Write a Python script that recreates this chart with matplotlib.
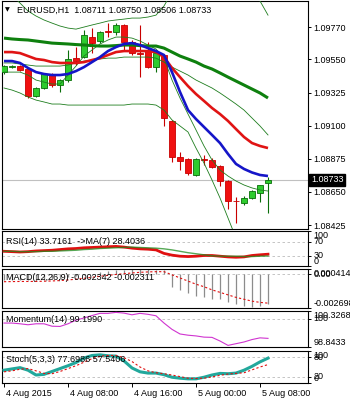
import matplotlib
matplotlib.use("Agg")
import matplotlib.pyplot as plt
from matplotlib.patches import Rectangle
from matplotlib.transforms import ScaledTranslation, blended_transform_factory

plt.rcParams['font.family'] = ['Liberation Sans', 'DejaVu Sans']
FS = 6.5

# ---------------- data ----------------
symbol_title = "EURUSD,H1  1.08711 1.08750 1.08506 1.08733"
last_price = 1.08733
price_ticks = [1.09770, 1.09550, 1.09325, 1.09100, 1.08875, 1.08650, 1.08425]
time_labels = ["4 Aug 2015", "4 Aug 08:00", "4 Aug 16:00", "5 Aug 00:00", "5 Aug 08:00"]
time_label_idx = [0, 8, 16, 24, 32]

opens = [1.09464, 1.09500, 1.09505, 1.09485, 1.09301, 1.09356, 1.09451, 1.09376, 1.09410, 1.09559,
         1.09566, 1.09702, 1.09675, 1.09740, 1.09736, 1.09784, 1.09668, 1.09597, 1.09614, 1.09498,
         1.09580, 1.09132, 1.08887, 1.08873, 1.08765, 1.08875, 1.08866, 1.08826, 1.08724, 1.08590,
         1.08574, 1.08608, 1.08642, 1.08711]
highs = [1.09515, 1.09512, 1.09512, 1.09492, 1.09363, 1.09458, 1.09460, 1.09417, 1.09614, 1.09634,
         1.09750, 1.09763, 1.09745, 1.09797, 1.09797, 1.09790, 1.09680, 1.09784, 1.09668, 1.09610,
         1.09590, 1.09140, 1.08921, 1.08880, 1.08880, 1.08900, 1.08880, 1.08830, 1.08730, 1.08615,
         1.08622, 1.08665, 1.08696, 1.08750]
lows = [1.09450, 1.09495, 1.09472, 1.09290, 1.09295, 1.09350, 1.09363, 1.09330, 1.09400, 1.09512,
        1.09560, 1.09593, 1.09665, 1.09702, 1.09716, 1.09614, 1.09580, 1.09430, 1.09490, 1.09464,
        1.09098, 1.08853, 1.08799, 1.08765, 1.08755, 1.08832, 1.08812, 1.08690, 1.08534, 1.08440,
        1.08560, 1.08600, 1.08580, 1.08506]
closes = [1.09505, 1.09508, 1.09478, 1.09301, 1.09356, 1.09451, 1.09376, 1.09410, 1.09553, 1.09539,
          1.09716, 1.09661, 1.09736, 1.09733, 1.09784, 1.09668, 1.09593, 1.09590, 1.09498, 1.09593,
          1.09152, 1.08887, 1.08859, 1.08778, 1.08873, 1.08868, 1.08819, 1.08724, 1.08588, 1.08585,
          1.08608, 1.08656, 1.08696, 1.08733]

ma_blue = [1.09539, 1.09539, 1.09526, 1.09492, 1.09464, 1.09451, 1.09444, 1.09444, 1.09451, 1.09471,
           1.09498, 1.09532, 1.09566, 1.09607, 1.09634, 1.09655, 1.09661, 1.09648, 1.09627, 1.09607,
           1.09580, 1.09464, 1.09329, 1.09206, 1.09145, 1.09091, 1.09037, 1.08982, 1.08908, 1.08840,
           1.08806, 1.08782, 1.08765, 1.08758]
ma_red = [1.09600, 1.09600, 1.09593, 1.09573, 1.09553, 1.09546, 1.09532, 1.09526, 1.09526, 1.09526,
          1.09532, 1.09546, 1.09559, 1.09580, 1.09600, 1.09607, 1.09607, 1.09607, 1.09607, 1.09600,
          1.09566, 1.09492, 1.09430, 1.09369, 1.09315, 1.09268, 1.09220, 1.09179, 1.09132, 1.09077,
          1.09023, 1.08982, 1.08962, 1.08948]
ma_green = [1.09695, 1.09689, 1.09685, 1.09682, 1.09675, 1.09668, 1.09661, 1.09658, 1.09655, 1.09651,
            1.09648, 1.09644, 1.09641, 1.09641, 1.09644, 1.09648, 1.09648, 1.09644, 1.09641, 1.09641,
            1.09627, 1.09600, 1.09573, 1.09553, 1.09532, 1.09505, 1.09485, 1.09458, 1.09430, 1.09403,
            1.09376, 1.09349, 1.09322, 1.09288]
bb_upper = [1.10028, 1.09987, 1.09933, 1.09879, 1.09845, 1.09818, 1.09797, 1.09777, 1.09763, 1.09756,
            1.09770, 1.09784, 1.09797, 1.09811, 1.09818, 1.09824, 1.09831, 1.09831, 1.09838, 1.09851,
            1.09913, 1.10008, 1.10123, 1.10225, 1.10293, 1.10327, 1.10327, 1.10293, 1.10259, 1.10191,
            1.10123, 1.10035, 1.09947, 1.09851]
bb_mid = [1.09526, 1.09526, 1.09519, 1.09512, 1.09505, 1.09505, 1.09505, 1.09505, 1.09512, 1.09526,
          1.09539, 1.09546, 1.09553, 1.09559, 1.09559, 1.09566, 1.09566, 1.09566, 1.09566, 1.09559,
          1.09532, 1.09498, 1.09471, 1.09444, 1.09410, 1.09383, 1.09356, 1.09322, 1.09285, 1.09247,
          1.09206, 1.09152, 1.09098, 1.09037]
bb_lower = [1.09356, 1.09342, 1.09322, 1.09295, 1.09274, 1.09261, 1.09247, 1.09247, 1.09240, 1.09240,
            1.09240, 1.09240, 1.09240, 1.09240, 1.09240, 1.09240, 1.09247, 1.09247, 1.09247, 1.09240,
            1.09206, 1.09139, 1.09098, 1.09057, 1.08948, 1.08846, 1.08731, 1.08609, 1.08473, 1.08337,
            1.08256, 1.08201, 1.08161, 1.08133]
ma_fast = [1.09464, 1.09464, 1.09464, 1.09444, 1.09410, 1.09396, 1.09383, 1.09383, 1.09444, 1.09505,
           1.09573, 1.09614, 1.09655, 1.09682, 1.09702, 1.09702, 1.09695, 1.09675, 1.09648, 1.09621,
           1.09559, 1.09410, 1.09288, 1.09179, 1.09071, 1.08962, 1.08867, 1.08799, 1.08758, 1.08724,
           1.08697, 1.08677, 1.08663, 1.08656]

rsi = [42, 41, 40, 41, 43, 44, 45, 47, 49, 50, 52, 53, 54, 55, 56, 54, 51, 49, 48, 46,
       36, 31, 28, 27, 28, 30, 30, 28, 26, 25, 26, 30, 32, 33.7161]
rsi_ma = [42, 42, 41, 41, 41, 42, 42, 43, 44, 45, 47, 48, 50, 51, 52, 53, 54, 53, 52, 51,
          49, 46, 42, 38, 35, 32, 29, 28, 28, 28, 27, 27, 28, 28.4036]
rsi_levels = [70, 30]

macd_main = [-0.00050, -0.00048, -0.00046, -0.00050, -0.00052, -0.00045, -0.00040, -0.00036, -0.00025, -0.00018,
             -0.00005, 0.00005, 0.00015, 0.00022, 0.00030, 0.00036, 0.00040, 0.00041, 0.00038, 0.00035,
             0.00030, -0.00105, -0.00130, -0.00150, -0.00172, -0.00180, -0.00195, -0.00200, -0.00222, -0.00238,
             -0.00252, -0.00258, -0.00255, -0.002342]
macd_signal = [-0.00060, -0.00059, -0.00058, -0.00058, -0.00058, -0.00056, -0.00054, -0.00051, -0.00046, -0.00040,
               -0.00033, -0.00025, -0.00017, -0.00009, -0.00002, 0.00004, 0.00010, 0.00015, 0.00018, 0.00020,
               0.00020, -0.00005, -0.00030, -0.00055, -0.00080, -0.00100, -0.00125, -0.00145, -0.00165, -0.00185,
               -0.00200, -0.00215, -0.00225, -0.002311]
macd_max, macd_min = 0.000414, -0.002698

momentum = [99.83, 99.83, 99.80, 99.76, 99.80, 99.80, 99.70, 99.69, 99.80, 99.95,
            100.04, 100.14, 100.23, 100.23, 100.27, 100.24, 100.17, 100.23, 100.19, 100.13,
            99.83, 99.57, 99.38, 99.33, 99.30, 99.25, 99.24, 99.09, 98.91, 98.98,
            99.05, 99.15, 99.22, 99.199]
mom_max, mom_min, mom_level = 100.3268, 98.8433, 100.0

stoch_k = [40, 44, 48, 40, 25, 27, 36, 45, 54, 64, 78, 86, 88, 85, 84, 69, 47, 35, 31, 31,
           26, 18, 15, 13, 13, 18, 25, 30, 29, 31, 40, 52, 66, 77.6986]
stoch_d = [35, 38, 43, 45, 38, 30, 29, 36, 45, 54, 65, 76, 84, 86, 86, 79, 67, 50, 38, 32,
           29, 25, 20, 15, 14, 15, 19, 24, 28, 30, 32, 41, 50, 57.5406]
stoch_levels = [80, 20]

# ---------------- layout ----------------
W, H = 350, 400
fig = plt.figure(figsize=(W / 100, H / 100), dpi=100)
fig.patch.set_facecolor('white')
LEFT, RIGHT = 2, 308


def ax_at(top, bottom):
    a = fig.add_axes([LEFT / W, 1 - bottom / H, (RIGHT - LEFT) / W, (bottom - top) / H])
    a.set_facecolor('white')
    for s in a.spines.values():
        s.set_color('black')
        s.set_linewidth(0.8)
    a.yaxis.tick_right()
    a.tick_params(axis='y', which='both', direction='out', length=2.5, width=0.7,
                  labelsize=FS, pad=1.5, colors='black', left=False, labelleft=False)
    a.tick_params(axis='x', which='both', bottom=False, labelbottom=False)
    a.set_xlim(-0.25, 38.0)
    return a, bottom - top


ax, h_main = ax_at(1, 229)
ax_rsi, h_rsi = ax_at(231, 266)
ax_macd, h_macd = ax_at(269, 308)
ax_mom, h_mom = ax_at(311, 347)
ax_sto, h_sto = ax_at(351, 383)

n = len(closes)
xs = list(range(n))

# ---------------- main chart ----------------
ax.set_ylim(1.08398, 1.09947)
ax.axhline(last_price, color='#C0C0C0', lw=0.8, zorder=1)
for i, (o, hi, lo, c) in enumerate(zip(opens, highs, lows, closes)):
    up = c >= o
    body = '#2ECC2E' if up else '#F01010'
    edge = '#0A6E0A' if up else '#C80000'
    ax.vlines(i, lo, hi, color=edge, lw=0.8, zorder=2)
    ax.add_patch(Rectangle((i - 0.34, min(o, c)), 0.68, abs(c - o),
                           facecolor=body, edgecolor=edge, lw=0.6, zorder=3))

thin = dict(color='#1E7D1E', lw=0.6, zorder=4)
ax.plot(xs, bb_upper, **thin)
ax.plot(xs, bb_mid, **thin)
ax.plot(xs, bb_lower, **thin)
ax.plot(xs, ma_fast, **thin)
ax.plot(xs, ma_green, color='#0E800E', lw=2.2, zorder=5, solid_capstyle='butt')
ax.plot(xs, ma_red, color='#E01414', lw=1.9, zorder=6, solid_capstyle='butt')
ax.plot(xs, ma_blue, color='#1515C8', lw=1.9, zorder=7, solid_capstyle='butt')

ax.set_yticks(price_ticks)
ax.set_yticklabels([f"{t:.5f}" for t in price_ticks])

ax.text(1.0 + 3 / 306, last_price, f"{last_price:.5f}", color='white', fontsize=FS,
        va='center', ha='left', transform=blended_transform_factory(ax.transAxes, ax.transData),
        bbox=dict(boxstyle='square,pad=0.18', fc='black', ec='black'), clip_on=False, zorder=10)

ax.text(3 / 306, 1 - 9 / h_main, "\u25BC", fontsize=4.5, family=['DejaVu Sans'],
        va='center', ha='left', transform=ax.transAxes, zorder=10)
ax.text(15 / 306, 1 - 9 / h_main, symbol_title, fontsize=FS, va='center', ha='left',
        transform=ax.transAxes, zorder=10)

# ---------------- RSI ----------------
ax_rsi.set_ylim(0, 100)
for lv in rsi_levels:
    ax_rsi.axhline(lv, color='#BBBBBB', lw=0.6, ls=(0, (3, 3)), zorder=1)
ax_rsi.plot(xs, rsi, color='#E01010', lw=2.0, zorder=3)
ax_rsi.plot(xs, rsi_ma, color='#1E8C1E', lw=1.0, alpha=0.75, zorder=4)
ax_rsi.set_yticks([100, 70, 30, 0])
ax_rsi.set_yticklabels(['100', '70', '30', '0'])
for lbl, va in zip(ax_rsi.get_yticklabels(), ['top', 'center', 'center', 'bottom']):
    lbl.set_va(va)
ax_rsi.text(4 / 306, 1 - 10 / h_rsi, f"RSI(14) {rsi[-1]:.4f}  ->MA(7) {rsi_ma[-1]:.4f}",
            fontsize=FS, va='center', ha='left', transform=ax_rsi.transAxes, zorder=10)

# ---------------- MACD ----------------
ax_macd.set_ylim(macd_min, macd_max)
ax_macd.axhline(0, color='#BBBBBB', lw=0.6, ls=(0, (3, 3)), zorder=1)
ax_macd.vlines(xs, 0, macd_main, color='#8C8C8C', lw=0.9, zorder=2)
ax_macd.plot(xs, macd_signal, color='#E01010', lw=0.8, ls=(0, (2, 2)), zorder=3)
ax_macd.set_yticks([macd_max, 0, macd_min])
ax_macd.set_yticklabels([f"{macd_max:.6f}", '0.00', f"{macd_min:.6f}"])
for lbl, va in zip(ax_macd.get_yticklabels(), ['top', 'center', 'bottom']):
    lbl.set_va(va)
ax_macd.text(4 / 306, 1 - 9 / h_macd,
             f"MACD(12,26,9) {macd_main[-1]:.6f} {macd_signal[-1]:.6f}",
             fontsize=FS, va='center', ha='left', transform=ax_macd.transAxes, zorder=10)

# ---------------- Momentum ----------------
ax_mom.set_ylim(mom_min, mom_max)
ax_mom.axhline(mom_level, color='#BBBBBB', lw=0.6, ls=(0, (3, 3)), zorder=1)
ax_mom.plot(xs, momentum, color='#D034D0', lw=0.8, zorder=3)
ax_mom.set_yticks([mom_max, mom_level, mom_min])
ax_mom.set_yticklabels([f"{mom_max:.4f}", '100', f"{mom_min:.4f}"])
for lbl, va in zip(ax_mom.get_yticklabels(), ['top', 'center', 'bottom']):
    lbl.set_va(va)
ax_mom.text(4 / 306, 1 - 9 / h_mom, f"Momentum(14) {momentum[-1]:.4f}",
            fontsize=FS, va='center', ha='left', transform=ax_mom.transAxes, zorder=10)

# ---------------- Stochastic ----------------
ax_sto.set_ylim(0, 100)
for lv in stoch_levels:
    ax_sto.axhline(lv, color='#BBBBBB', lw=0.6, ls=(0, (3, 3)), zorder=1)
ax_sto.plot(xs, stoch_k, color='#22A89C', lw=2.2, zorder=3)
ax_sto.plot(xs, stoch_d, color='#E01010', lw=0.8, ls=(0, (2, 2)), zorder=4)
ax_sto.set_yticks([100, 80, 20, 0])
ax_sto.set_yticklabels(['100', '80', '20', '0'])
for lbl, va in zip(ax_sto.get_yticklabels(), ['top', 'center', 'center', 'bottom']):
    lbl.set_va(va)
ax_sto.text(4 / 306, 1 - 9 / h_sto, f"Stoch(5,3,3) {stoch_k[-1]:.4f} {stoch_d[-1]:.4f}",
            fontsize=FS, va='center', ha='left', transform=ax_sto.transAxes, zorder=10)

ax_sto.tick_params(axis='x', which='both', bottom=True, labelbottom=True, direction='out',
                   length=3, width=0.7, labelsize=FS, pad=1.5)
ax_sto.set_xticks(time_label_idx)
ax_sto.set_xticklabels(time_labels)
off = ScaledTranslation(1.5 / 72, 0, fig.dpi_scale_trans)
for lbl in ax_sto.get_xticklabels():
    lbl.set_ha('left')
    lbl.set_transform(lbl.get_transform() + off)

fig.savefig('out.png', dpi=100, facecolor='white')
